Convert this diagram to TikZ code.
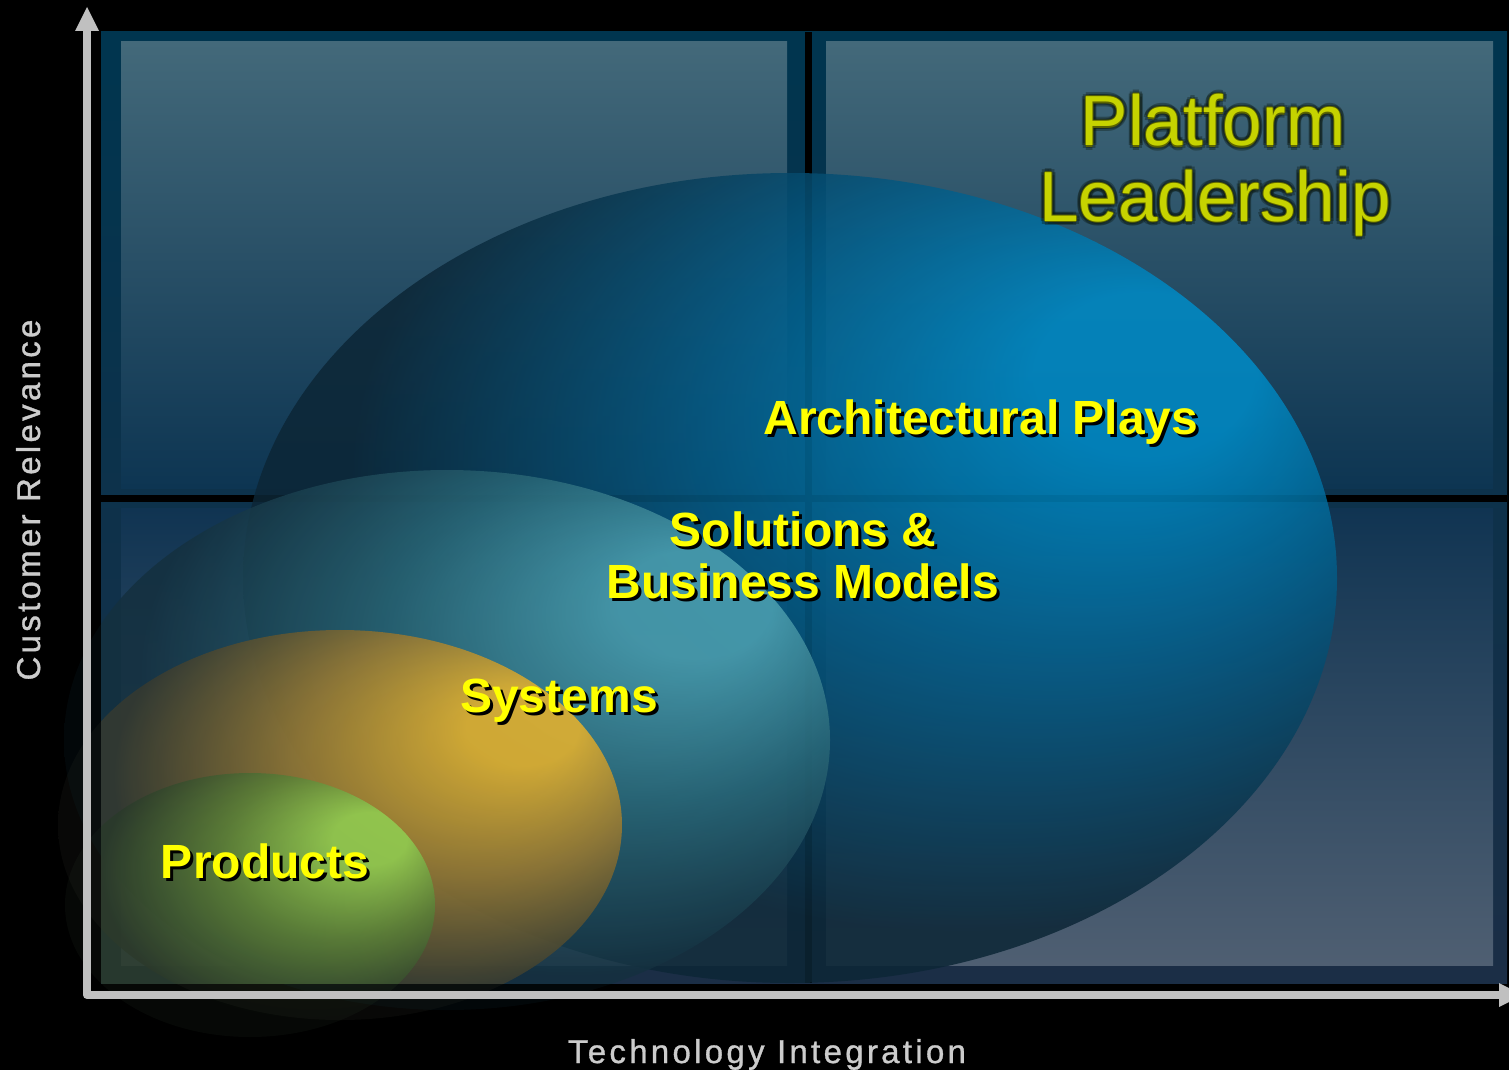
\documentclass[tikz,border=0pt]{standalone}
\usepackage{fontspec}
\setmainfont{Liberation Sans}
\newfontfamily\axisfont[LetterSpace=10,FakeBold=1]{Liberation Sans}
\definecolor{axisgray}{HTML}{C0C0C0}
\definecolor{axistext}{HTML}{CCCCCC}
\definecolor{frametop}{HTML}{00354F}
\definecolor{framebot}{HTML}{1B2E46}
\definecolor{ptop}{HTML}{43697A}
\definecolor{pbot}{HTML}{0D3552}
\definecolor{qtop}{HTML}{103452}
\definecolor{qbot}{HTML}{4F5F72}
\definecolor{archB}{HTML}{008CC8}
\definecolor{archM}{HTML}{045A84}
\definecolor{archD}{HTML}{0C2636}
\definecolor{solB}{HTML}{4EA2B2}
\definecolor{solM}{HTML}{2A6878}
\definecolor{solD}{HTML}{14303F}
\definecolor{sysB}{HTML}{ECB42A}
\definecolor{sysM}{HTML}{9C7A30}
\definecolor{sysD}{HTML}{363A30}
\definecolor{prodB}{HTML}{90D052}
\definecolor{prodM}{HTML}{5A8238}
\definecolor{prodD}{HTML}{2A3A2A}
\definecolor{lblyellow}{HTML}{FFFF00}
\definecolor{plfill}{HTML}{C6D300}
\definecolor{pledge}{HTML}{5C6400}
\definecolor{plglow}{HTML}{0A160E}
\pgfdeclareradialshading{archsh}{\pgfpoint{18bp}{14bp}}{color(0bp)=(archB); color(5bp)=(archB); color(16bp)=(archM); color(28bp)=(archD); color(50bp)=(archD)}
\pgfdeclareradialshading{solsh}{\pgfpoint{18bp}{14bp}}{color(0bp)=(solB); color(5bp)=(solB); color(16bp)=(solM); color(28bp)=(solD); color(50bp)=(solD)}
\pgfdeclareradialshading{syssh}{\pgfpoint{18bp}{14bp}}{color(0bp)=(sysB); color(5bp)=(sysB); color(16bp)=(sysM); color(28bp)=(sysD); color(50bp)=(sysD)}
\pgfdeclareradialshading{prodsh}{\pgfpoint{18bp}{14bp}}{color(0bp)=(prodB); color(5bp)=(prodB); color(16bp)=(prodM); color(28bp)=(prodD); color(50bp)=(prodD)}
\tikzset{
  lbl/.style={font=\bfseries\fontsize{48}{52}\selectfont, text=lblyellow, anchor=base, inner sep=0pt},
  lblsh/.style={lbl, text=black},
  pl/.style={font=\fontsize{71}{75}\selectfont, anchor=base, inner sep=0pt},
  plglowsty/.style={pl, text=plglow, text opacity=0.35},
  axislbl/.style={font=\axisfont\fontsize{33}{36}\selectfont, text=axistext, anchor=base, inner sep=0pt},
  bubble/.style={fill opacity=0.85, shading angle=0},
  faintbubble/.style={fill opacity=0.15, shading angle=0},
  axisline/.style={draw=axisgray, line width=8pt, line join=round},
  axishead/.style={fill=axisgray},
  panelTop/.style={top color=ptop, bottom color=pbot},
  panelBot/.style={top color=qtop, bottom color=qbot}
}
\begin{document}
\begin{tikzpicture}[x=1pt,y=-1pt]
\useasboundingbox (0,0) rectangle (1509,1070);
\fill[black] (0,0) rectangle (1509,1070);
% faint parts of the bubbles outside the frame
\shade[faintbubble, shading=solsh] (447,740) ellipse [x radius=383pt, y radius=270pt];
\shade[faintbubble, shading=syssh] (340,825) ellipse [x radius=282pt, y radius=195pt];
\shade[faintbubble, shading=prodsh] (250,905) ellipse [x radius=185pt, y radius=132pt];
% frame
\shade[top color=frametop, bottom color=framebot] (101,32) rectangle (1507,983);
\shade[panelTop] (121,42) rectangle (787,488);
\shade[panelTop] (826,42) rectangle (1493,488);
\shade[panelBot] (121,508) rectangle (787,965);
\shade[panelBot] (826,508) rectangle (1493,965);
\fill[black] (805,32) rectangle (812,983);
\fill[black] (101,495) rectangle (1507,502);
% bubbles
\begin{scope}
\clip (101,32) rectangle (1507,983);
\shade[bubble, shading=archsh] (790,578) ellipse [x radius=547pt, y radius=405pt];
\shade[bubble, shading=solsh] (447,740) ellipse [x radius=383pt, y radius=270pt];
\shade[bubble, shading=syssh] (340,825) ellipse [x radius=282pt, y radius=195pt];
\shade[bubble, shading=prodsh] (250,905) ellipse [x radius=185pt, y radius=132pt];
\end{scope}
% axes
\coordinate (ytop) at (87,31);
\coordinate (orig) at (87,995);
\coordinate (xend) at (1499,995);
\draw[axisline] (ytop) -- (orig) -- (xend);
\fill[axishead] (75,31) -- (87,7) -- (99,31) -- cycle;
\fill[axishead] (1499,983) -- (1523,995) -- (1499,1007) -- cycle;
% axis labels
\node[axislbl, rotate=90] (ylab) at (40,500) {Customer Relevance};
\node[axislbl] (xlab) at (767,1063) {Technology Integration};
% platform leadership
\foreach \dx/\dy [count=\k] in {4/0,-4/0,0/4,0/-4,3/3,-3/3,3/-3,-3/-3} {
  \node[plglowsty] (gp\k) at (1213+\dx,146+\dy) {Platform};
  \node[plglowsty] (gl\k) at (1215+\dx,221+\dy) {Leadership};
}
\foreach \dx/\dy [count=\k] in {1/0,-1/0,0/1,0/-1} {
  \node[pl, text=pledge] (ep\k) at (1213+\dx,146+\dy) {Platform};
  \node[pl, text=pledge] (el\k) at (1215+\dx,221+\dy) {Leadership};
}
\node[pl, text=plfill] (plat) at (1213,146) {Platform};
\node[pl, text=plfill] (lead) at (1215,221) {Leadership};
% labels
\node[lblsh] (archs) at (984,437) {Architectural Plays};
\node[lbl] (arch) at (981,434) {Architectural Plays};
\node[lblsh] (sol1s) at (806,549) {Solutions \&};
\node[lbl] (sol1) at (803,546) {Solutions \&};
\node[lblsh] (sol2s) at (806,601) {Business Models};
\node[lbl] (sol2) at (803,598) {Business Models};
\node[lblsh] (syss) at (562,715) {Systems};
\node[lbl] (sys) at (559,712) {Systems};
\node[lblsh] (prods) at (268,881) {Products};
\node[lbl] (prod) at (265,878) {Products};
\end{tikzpicture}
\end{document}
